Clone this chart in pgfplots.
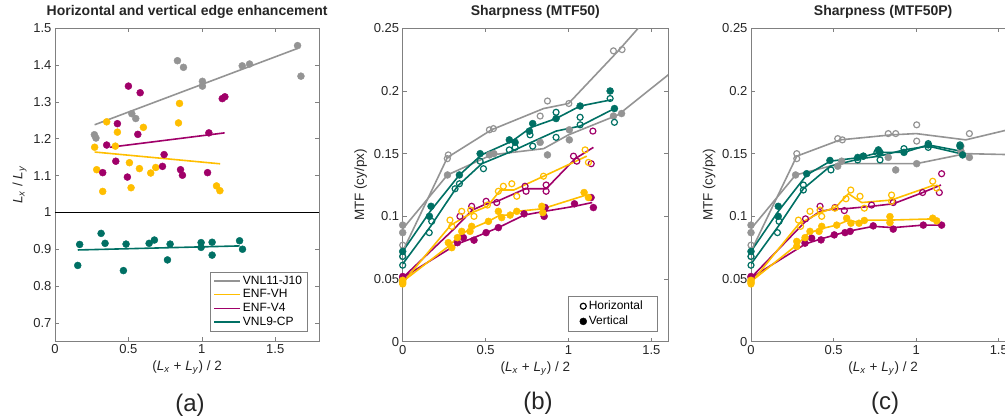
\documentclass[border=0pt]{standalone}
\usepackage{fontspec}
\setmainfont{Liberation Sans}
\usepackage{pgfplots}
\pgfplotsset{compat=1.18}
\definecolor{cgray}{RGB}{148,148,148}
\definecolor{cyel}{RGB}{255,190,0}
\definecolor{cpur}{RGB}{160,0,105}
\definecolor{cteal}{RGB}{0,112,100}
\definecolor{axgray}{RGB}{128,128,128}
\definecolor{txt}{RGB}{38,38,38}
\pgfplotsset{
  mstyle/.style={
    scale only axis,
    axis line style={axgray, line width=0.6pt},
    tick style={axgray, line width=0.6pt},
    major tick length=4pt,
    tick align=inside,
    xtick pos=both, ytick pos=both,
    ticklabel style={font=\fontsize{13}{15}\selectfont, text=txt},
    label style={font=\fontsize{13.5}{16}\selectfont, text=txt},
    title style={font=\fontsize{14}{16}\selectfont\bfseries, text=txt},
    /pgf/number format/assume math mode=true,
    scaled ticks=false,
    clip=true,
  },
  fl/.style={only marks, mark=*, mark size=3.5pt, forget plot},
  op/.style={only marks, mark=o, mark size=3.0pt, mark options={line width=1.2pt}, forget plot},
  ln/.style={line width=1.6pt, mark=none, forget plot},
}
\newcommand{\Lx}{\textit{L}\textsubscript{\textit{x}}}
\newcommand{\Ly}{\textit{L}\textsubscript{\textit{y}}}
\begin{document}
\begin{tikzpicture}
% ---------------- (a)
\begin{axis}[mstyle,
  at={(55pt,77.7pt)}, anchor=south west,
  width=264.3pt, height=313pt,
  xmin=0, xmax=1.8, ymin=0.65, ymax=1.5,
  xtick={0,0.5,1,1.5}, ytick={0.7,0.8,0.9,1,1.1,1.2,1.3,1.4,1.5},
  yticklabel style={/pgf/number format/.cd, fixed, precision=1},
  title={Horizontal and vertical edge enhancement},
  xlabel={(\Lx\ + \Ly) / 2},
  ylabel={\Lx\ / \Ly},
  legend style={at={(1,0)}, anchor=south east, xshift=-12pt, yshift=10pt,
    font=\fontsize{12}{14}\selectfont, draw=axgray, cells={anchor=west},
    row sep=0pt, inner xsep=3pt, inner ysep=2pt},
  legend image code/.code={\draw[#1] (0pt,0pt) -- (26pt,0pt);},
  every odd column/.append style={column sep=4pt},
]
\addplot[black, line width=0.8pt, forget plot] coordinates {(0,1) (1.8,1)};
\addplot[fl, mark size=3.5pt, cgray] coordinates {(0.268,1.211)(0.279,1.202)(0.523,1.268)(0.55,1.255)(0.834,1.412)(0.875,1.394)(1.004,1.356)(1.004,1.343)(1.275,1.398)(1.325,1.403)(1.652,1.453)(1.675,1.37)};
\addplot[fl, mark size=3.5pt, cyel] coordinates {(0.27,1.177)(0.284,1.116)(0.325,1.057)(0.352,1.246)(0.411,1.18)(0.425,1.218)(0.507,1.135)(0.518,1.067)(0.575,1.119)(0.602,1.231)(0.652,1.107)(0.686,1.122)(0.841,1.243)(0.848,1.296)(1.1,1.072)(1.123,1.059)};
\addplot[fl, mark size=3.5pt, cpur] coordinates {(0.325,1.108)(0.352,1.183)(0.414,1.139)(0.425,1.241)(0.493,1.096)(0.5,1.343)(0.564,1.212)(0.58,1.325)(0.732,1.125)(0.743,1.157)(0.855,1.116)(0.868,1.101)(1.039,1.108)(1.048,1.216)(1.139,1.309)(1.157,1.314)};
\addplot[fl, mark size=3.5pt, cteal] coordinates {(0.155,0.856)(0.168,0.913)(0.314,0.943)(0.341,0.916)(0.466,0.842)(0.484,0.914)(0.641,0.916)(0.677,0.925)(0.784,0.914)(0.766,0.871)(0.995,0.918)(0.995,0.905)(1.07,0.919)(1.07,0.884)(1.257,0.923)(1.277,0.9)};
\addplot[ln, cgray] coordinates {(0.27,1.238)(1.65,1.445)};
\addplot[ln, cyel] coordinates {(0.27,1.164)(1.125,1.132)};
\addplot[ln, cpur] coordinates {(0.375,1.177)(1.155,1.216)};
\addplot[ln, cteal] coordinates {(0.155,0.898)(1.257,0.909)};
\addlegendimage{cgray, line width=1.6pt}\addlegendentry{VNL11-J10}
\addlegendimage{cyel, line width=1.6pt}\addlegendentry{ENF-VH}
\addlegendimage{cpur, line width=1.6pt}\addlegendentry{ENF-V4}
\addlegendimage{cteal, line width=1.6pt}\addlegendentry{VNL9-CP}
\end{axis}
% ---------------- (b)
\begin{axis}[mstyle,
  at={(402.7pt,77.3pt)}, anchor=south west,
  width=265.3pt, height=313.4pt,
  xmin=0, xmax=1.6, ymin=0, ymax=0.25,
  xtick={0,0.5,1,1.5}, ytick={0,0.05,0.1,0.15,0.2,0.25},
  yticklabel style={/pgf/number format/.cd, fixed, precision=2},
  title={Sharpness (MTF50)},
  xlabel={(\Lx\ + \Ly) / 2},
  ylabel={MTF (cy/px)},
  legend style={at={(1,0)}, anchor=south east, xshift=-11pt, yshift=10pt,
    font=\fontsize{12}{14}\selectfont, draw=axgray, cells={anchor=west},
    row sep=1pt, inner xsep=12pt, inner ysep=3pt},
  every odd column/.append style={column sep=3pt},
]
% gray
\addplot[ln, cgray] coordinates {(0,0.072)(0.27,0.147)(0.535,0.169)(0.85,0.186)(1.0,0.19)(1.30,0.232)(1.45,0.2545)};
\addplot[ln, cgray] coordinates {(0,0.09)(0.27,0.133)(0.535,0.149)(0.85,0.154)(1.0,0.165)(1.30,0.181)(1.65,0.218)};
\addplot[op, cgray] coordinates {(0,0.077)(0,0.068)(0.269,0.146)(0.275,0.149)(0.523,0.169)(0.547,0.170)(0.829,0.18)(0.873,0.192)(1.002,0.190)(1.271,0.232)(1.323,0.233)};
\addplot[fl, cgray] coordinates {(0,0.093)(0,0.087)(0.27,0.133)(0.523,0.149)(0.55,0.150)(0.829,0.159)(0.873,0.149)(1.005,0.169)(1.005,0.161)(1.271,0.180)(1.32,0.182)};
% teal
\addplot[ln, cteal] coordinates {(0,0.072)(0.166,0.104)(0.342,0.133)(0.475,0.149)(0.66,0.160)(0.775,0.171)(0.925,0.178)(1.07,0.188)(1.26,0.193)};
\addplot[ln, cteal] coordinates {(0,0.062)(0.168,0.092)(0.33,0.124)(0.477,0.142)(0.66,0.152)(0.775,0.159)(0.925,0.168)(1.07,0.172)(1.277,0.186)};
\addplot[fl, cteal] coordinates {(0,0.072)(0.171,0.108)(0.161,0.100)(0.342,0.133)(0.467,0.150)(0.643,0.161)(0.678,0.159)(0.764,0.168)(0.784,0.174)(0.925,0.178)(1.07,0.188)(1.251,0.200)(1.277,0.186)};
\addplot[op, cteal] coordinates {(0,0.068)(0,0.061)(0.175,0.096)(0.16,0.087)(0.316,0.122)(0.342,0.126)(0.467,0.144)(0.487,0.138)(0.643,0.153)(0.678,0.155)(0.768,0.165)(0.784,0.156)(0.925,0.183)(0.925,0.163)(1.07,0.179)(1.07,0.173)(1.251,0.194)(1.277,0.175)};
% purple
\addplot[ln, cpur] coordinates {(0,0.051)(0.31,0.09)(0.42,0.105)(0.505,0.11)(0.57,0.112)(0.74,0.122)(0.865,0.122)(1.04,0.146)(1.15,0.155)};
\addplot[ln, cpur] coordinates {(0,0.051)(0.33,0.078)(0.43,0.083)(0.503,0.087)(0.577,0.091)(0.732,0.101)(0.856,0.104)(1.036,0.108)(1.143,0.111)};
\addplot[op, cpur] coordinates {(0,0.051)(0.345,0.100)(0.416,0.108)(0.503,0.112)(0.567,0.111)(0.738,0.124)(0.744,0.12)(0.865,0.125)(0.865,0.12)(1.03,0.148)(1.05,0.144)(1.137,0.142)(1.147,0.168)};
\addplot[fl, cpur] coordinates {(0,0.052)(0.33,0.079)(0.366,0.083)(0.43,0.081)(0.503,0.087)(0.577,0.091)(0.732,0.102)(0.853,0.100)(0.859,0.107)(1.036,0.110)(1.136,0.115)(1.15,0.107)};
% yellow
\addplot[ln, cyel] coordinates {(0,0.047)(0.29,0.093)(0.42,0.103)(0.51,0.108)(0.59,0.121)(0.67,0.121)(0.85,0.132)(1.11,0.148)};
\addplot[ln, cyel] coordinates {(0,0.048)(0.285,0.077)(0.343,0.085)(0.41,0.09)(0.517,0.096)(0.587,0.101)(0.648,0.101)(0.688,0.104)(0.842,0.106)(1.107,0.117)};
\addplot[op, cyel] coordinates {(0,0.048)(0,0.046)(0.285,0.097)(0.296,0.092)(0.356,0.104)(0.41,0.105)(0.43,0.100)(0.511,0.109)(0.577,0.120)(0.607,0.124)(0.658,0.126)(0.688,0.116)(0.849,0.132)(1.10,0.153)(1.12,0.143)};
\addplot[fl, cyel] coordinates {(0,0.049)(0,0.047)(0.275,0.079)(0.296,0.075)(0.33,0.083)(0.356,0.088)(0.406,0.088)(0.416,0.092)(0.517,0.096)(0.577,0.104)(0.597,0.099)(0.648,0.101)(0.688,0.104)(0.839,0.108)(0.845,0.103)(1.094,0.119)(1.12,0.115)};
\addlegendimage{only marks, mark=o, mark size=3.0pt, mark options={line width=1.2pt}, black}\addlegendentry{Horizontal}
\addlegendimage{only marks, mark=*, mark size=3.5pt, black}\addlegendentry{Vertical}
\end{axis}
% ---------------- (c)
\begin{axis}[mstyle,
  at={(751pt,77.3pt)}, anchor=south west,
  width=264.3pt, height=313.4pt,
  xmin=0, xmax=1.6, ymin=0, ymax=0.25,
  xtick={0,0.5,1,1.5}, ytick={0,0.05,0.1,0.15,0.2,0.25},
  yticklabel style={/pgf/number format/.cd, fixed, precision=2},
  title={Sharpness (MTF50P)},
  xlabel={(\Lx\ + \Ly) / 2},
  ylabel={MTF (cy/px)},
]
% gray
\addplot[ln, cgray] coordinates {(0,0.072)(0.277,0.148)(0.54,0.161)(0.85,0.165)(1.0,0.166)(1.3,0.161)(1.65,0.172)};
\addplot[ln, cgray] coordinates {(0,0.09)(0.27,0.133)(0.537,0.142)(0.85,0.142)(1.0,0.142)(1.3,0.150)(1.65,0.149)};
\addplot[op, cgray] coordinates {(0,0.077)(0,0.068)(0.277,0.150)(0.277,0.146)(0.525,0.162)(0.553,0.161)(0.831,0.166)(0.876,0.166)(1.003,0.173)(1.003,0.160)(1.271,0.156)(1.322,0.166)};
\addplot[fl, cgray] coordinates {(0,0.093)(0,0.087)(0.27,0.133)(0.525,0.140)(0.549,0.144)(0.831,0.147)(0.876,0.137)(1.003,0.142)(1.271,0.152)(1.322,0.147)};
% teal
\addplot[ln, cteal] coordinates {(0,0.072)(0.165,0.104)(0.337,0.133)(0.48,0.144)(0.663,0.147)(0.776,0.151)(0.926,0.151)(1.073,0.157)(1.27,0.152)};
\addplot[ln, cteal] coordinates {(0,0.062)(0.165,0.092)(0.317,0.122)(0.48,0.140)(0.663,0.146)(0.776,0.148)(0.926,0.153)(1.073,0.156)(1.27,0.150)};
\addplot[fl, cteal] coordinates {(0,0.072)(0.165,0.108)(0.165,0.100)(0.337,0.134)(0.478,0.1446)(0.646,0.147)(0.68,0.148)(0.771,0.153)(0.781,0.151)(0.926,0.151)(1.073,0.157)(1.265,0.156)(1.281,0.149)};
\addplot[op, cteal] coordinates {(0,0.068)(0,0.061)(0.17,0.096)(0.16,0.087)(0.317,0.125)(0.317,0.121)(0.484,0.137)(0.646,0.145)(0.68,0.148)(0.762,0.151)(0.781,0.145)(0.926,0.154)(1.073,0.158)(1.073,0.155)(1.265,0.157)};
% purple
\addplot[ln, cpur] coordinates {(0,0.051)(0.33,0.096)(0.418,0.104)(0.508,0.106)(0.565,0.106)(0.73,0.108)(0.861,0.110)(1.04,0.119)(1.15,0.125)};
\addplot[ln, cpur] coordinates {(0,0.051)(0.33,0.078)(0.424,0.082)(0.504,0.085)(0.585,0.088)(0.74,0.092)(0.861,0.091)(1.043,0.093)(1.154,0.093)};
\addplot[op, cpur] coordinates {(0,0.051)(0.33,0.098)(0.418,0.108)(0.508,0.107)(0.565,0.1046)(0.73,0.109)(0.861,0.111)(1.039,0.119)(1.14,0.119)(1.154,0.134)};
\addplot[fl, cpur] coordinates {(0,0.052)(0.327,0.0786)(0.367,0.0826)(0.424,0.0812)(0.504,0.0852)(0.569,0.087)(0.6,0.088)(0.74,0.0924)(0.861,0.0898)(1.043,0.093)(1.154,0.093)};
% yellow
\addplot[ln, cyel] coordinates {(0,0.047)(0.29,0.094)(0.42,0.103)(0.51,0.107)(0.59,0.118)(0.67,0.111)(0.85,0.113)(1.11,0.125)};
\addplot[ln, cyel] coordinates {(0,0.048)(0.285,0.078)(0.342,0.086)(0.42,0.09)(0.519,0.093)(0.592,0.097)(0.654,0.095)(0.686,0.097)(0.841,0.097)(1.112,0.098)};
\addplot[op, cyel] coordinates {(0,0.048)(0,0.046)(0.287,0.097)(0.30,0.092)(0.357,0.104)(0.418,0.105)(0.428,0.100)(0.508,0.1065)(0.575,0.114)(0.604,0.121)(0.66,0.116)(0.686,0.1065)(0.851,0.117)(0.851,0.112)(1.1,0.128)(1.124,0.1225)};
\addplot[fl, cyel] coordinates {(0,0.049)(0,0.047)(0.277,0.080)(0.277,0.076)(0.327,0.083)(0.357,0.088)(0.412,0.088)(0.428,0.092)(0.519,0.093)(0.579,0.0985)(0.605,0.0945)(0.654,0.0945)(0.686,0.0967)(0.841,0.0998)(0.841,0.095)(1.1,0.0985)(1.124,0.0964)};
\end{axis}
\node[font=\fontsize{24}{28}\selectfont, text=txt] at (190pt,14pt) {(a)};
\node[font=\fontsize{24}{28}\selectfont, text=txt] at (538pt,16pt) {(b)};
\node[font=\fontsize{24}{28}\selectfont, text=txt] at (885pt,16pt) {(c)};
\pgfresetboundingbox
\path[use as bounding box] (0pt,0pt) rectangle (1005pt,419pt);
\end{tikzpicture}
\end{document}
